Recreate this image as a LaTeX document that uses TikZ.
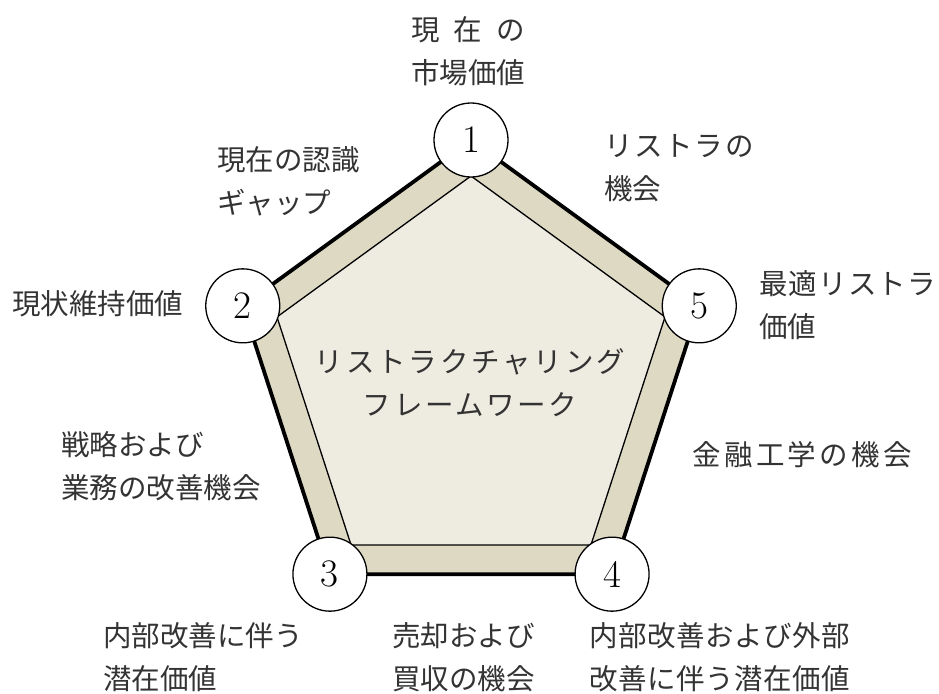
\documentclass[tikz,border=0pt]{standalone}
\usepackage{fontspec}
\newfontfamily\jp{Noto Sans CJK JP}
\definecolor{bandtan}{HTML}{DDD9C3}
\definecolor{innerfill}{HTML}{EEECE1}
\newcommand{\lsp}[2]{{\addfontfeature{LetterSpace=#1}#2}}
\begin{document}
\begin{tikzpicture}[x=1pt,y=-1pt,
  jptext/.style={font=\jp\fontsize{28.5}{43}\selectfont, inner sep=0pt, text=black!80},
  lefttext/.style={jptext, align=left, anchor=west},
  ctext/.style={jptext, align=center, anchor=center},
  numcircle/.style={circle, draw, line width=1.3pt, fill=white, minimum size=74pt, inner sep=0pt, font=\fontsize{39}{39}\selectfont}]
\path[use as bounding box] (0,0) rectangle (939,693);
% outer pentagon vertices
\coordinate (o1) at (471,140);
\coordinate (o2) at (242.75,305.84);
\coordinate (o3) at (329.93,574.16);
\coordinate (o4) at (612.07,574.16);
\coordinate (o5) at (699.25,305.84);
% inner pentagon vertices
\coordinate (i1) at (471,176);
\coordinate (i2) at (276.97,316.96);
\coordinate (i3) at (351.09,545.04);
\coordinate (i4) at (590.91,545.04);
\coordinate (i5) at (665.03,316.96);
\fill[bandtan] (o1) -- (o2) -- (o3) -- (o4) -- (o5) -- cycle;
\draw[line width=3.8pt] (o1) -- (o2) -- (o3) -- (o4) -- (o5) -- cycle;
\draw[fill=innerfill, line width=1.3pt] (i1) -- (i2) -- (i3) -- (i4) -- (i5) -- cycle;
% circles
\node[numcircle] (c1) at (o1) {1};
\node[numcircle] (c2) at (o2) {2};
\node[numcircle] (c3) at (o3) {3};
\node[numcircle] (c4) at (o4) {4};
\node[numcircle] (c5) at (o5) {5};
% center
\node[ctext] (center) at (470,383) {\lsp{10}{リストラクチャリング}\\\lsp{9}{フレームワーク}};
% labels
\node[ctext] (t1) at (468,51) {現\hspace{0.5em}在\hspace{0.5em}の\\市場価値};
\node[lefttext] (t12) at (217,181) {現在の認識\\ギャップ};
\node[lefttext] (t15) at (604,168) {\lsp{6}{リストラの}\\機会};
\node[lefttext] (t2) at (12,304) {現状維持価値};
\node[lefttext] (t5) at (759,305) {\lsp{4}{最適リストラ}\\価値};
\node[lefttext] (t23) at (61,466) {戦略および\\業務の改善機会};
\node[lefttext] (t45) at (692,455) {\lsp{12}{金融工学の機会}};
\node[lefttext] (t3) at (103,657) {内部改善に伴う\\潜在価値};
\node[lefttext] (t34) at (392,657) {売却および\\買収の機会};
\node[lefttext] (t4) at (589,657) {\lsp{2}{内部改善および外部}\\\lsp{2}{改善に伴う潜在価値}};
\end{tikzpicture}
\end{document}
